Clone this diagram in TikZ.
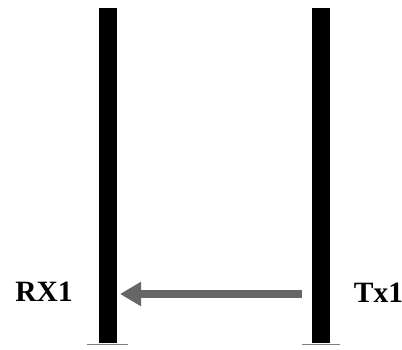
\documentclass[tikz,border=0pt]{standalone}
\usepackage{fontspec}
\setmainfont{Liberation Serif}
\usetikzlibrary{arrows.meta}
\definecolor{arrowgray}{HTML}{666666}
\definecolor{basegray}{HTML}{808080}
\tikzset{
  mast/.style={fill=black, draw=none},
  baseline rule/.style={draw=basegray, line width=1.5pt},
  label txt/.style={font=\bfseries\fontsize{29.5}{31}\selectfont, inner sep=0pt},
  signal/.style={draw=arrowgray, line width=8pt,
    -{Triangle[length=21pt, width=23pt, color=arrowgray]}}
}
\begin{document}
\begin{tikzpicture}[x=1pt, y=-1pt]
  \useasboundingbox (0,0) rectangle (402,350);
  % two antenna masts
  \fill[mast] (99,8) rectangle (117,343);
  \fill[mast] (312,8) rectangle (330,343);
  % ground lines under the masts
  \draw[baseline rule] (87,344.5) -- (128,344.5);
  \draw[baseline rule] (302,344.5) -- (340,344.5);
  % anchor points on the masts
  \coordinate (rxside) at (120,294);
  \coordinate (txside) at (302,294);
  % labels
  \node[label txt, anchor=center] (rx) at (44,292) {RX1};
  \node[label txt, anchor=center] (tx) at (378.5,293) {Tx1};
  % transmission arrow
  \draw[signal] (txside) -- (rxside);
\end{tikzpicture}
\end{document}
